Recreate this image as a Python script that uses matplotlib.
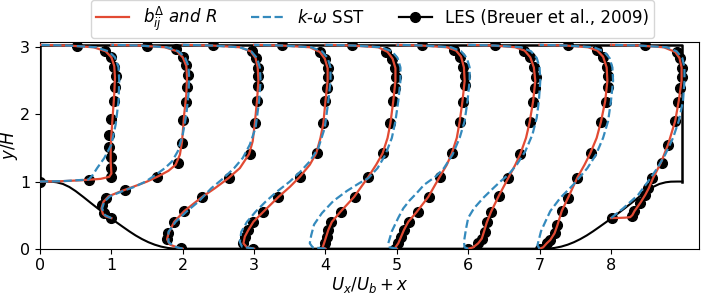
import numpy as np
import matplotlib
matplotlib.use("Agg")
import matplotlib.pyplot as plt
from matplotlib.lines import Line2D

# periodic hill geometry (left hill), mirrored on the right
hill_x = [0, 0.071, 0.161, 0.232, 0.321, 0.411, 0.5, 0.607, 0.714, 0.804, 0.893, 0.982,
          1.071, 1.161, 1.25, 1.339, 1.429, 1.518, 1.607, 1.696, 1.786, 1.857, 1.929]
hill_y = [1.0, 1.0, 0.998, 0.989, 0.964, 0.919, 0.857, 0.770, 0.679, 0.604, 0.532, 0.462,
          0.393, 0.325, 0.259, 0.1975, 0.143, 0.0967, 0.0594, 0.0311, 0.0118, 0.0029, 0.0]
L_x = 9.0
H_top = 3.036

stations = [0, 1, 2, 3, 4, 5, 6, 7, 8]

# LES (Breuer et al., 2009)
les_y = [
    [1.0, 1.025, 1.065, 1.2, 1.37, 1.52, 1.7, 1.93, 2.2, 2.41, 2.57, 2.7, 2.85, 2.95, 3.02],
    [0.453, 0.527, 0.651, 0.75, 0.874, 1.073, 1.27, 1.57, 1.917, 2.19, 2.41, 2.59, 2.74, 2.86, 2.97, 3.02],
    [0.01, 0.14, 0.23, 0.40, 0.56, 0.77, 1.05, 1.41, 1.87, 2.2, 2.42, 2.57, 2.69, 2.84, 2.94, 3.03],
    [0.0, 0.08, 0.18, 0.28, 0.40, 0.55, 0.77, 1.07, 1.42, 1.87, 2.2, 2.39, 2.55, 2.69, 2.83, 2.93, 3.03],
    [0.0, 0.08, 0.18, 0.28, 0.40, 0.55, 0.77, 1.07, 1.42, 1.87, 2.2, 2.39, 2.55, 2.69, 2.83, 2.93, 3.03],
    [0.0, 0.08, 0.18, 0.28, 0.40, 0.55, 0.77, 1.07, 1.42, 1.89, 2.19, 2.44, 2.57, 2.71, 2.86, 2.96, 3.03],
    [0.0, 0.08, 0.15, 0.25, 0.39, 0.55, 0.79, 1.05, 1.41, 1.88, 2.19, 2.4, 2.56, 2.7, 2.85, 2.95, 3.03],
    [0.0, 0.08, 0.13, 0.23, 0.35, 0.56, 0.76, 1.06, 1.42, 1.89, 2.19, 2.41, 2.57, 2.71, 2.86, 2.96, 3.03],
    [0.457, 0.48, 0.56, 0.68, 0.80, 0.90, 1.05, 1.28, 1.55, 1.9, 2.19, 2.39, 2.55, 2.69, 2.84, 2.93, 3.03],
]
les_u = [
    [0.0, 0.68, 0.99, 1.0, 0.99, 0.97, 0.97, 1.0, 1.03, 1.05, 1.06, 1.04, 0.99, 0.91, 0.52],
    [0.0, -0.11, -0.13, -0.07, 0.19, 0.635, 0.94, 0.99, 1.01, 1.04, 1.056, 1.07, 1.05, 1.0, 0.9, 0.5],
    [-0.03, -0.22, -0.2, -0.12, 0.02, 0.27, 0.65, 0.94, 1.01, 1.04, 1.06, 1.06, 1.05, 1.03, 0.97, 0.43],
    [-0.02, -0.15, -0.13, -0.08, -0.01, 0.13, 0.34, 0.64, 0.88, 0.97, 1.0, 1.02, 1.04, 1.03, 0.99, 0.92, 0.39],
    [-0.02, 0.0, 0.02, 0.04, 0.08, 0.22, 0.42, 0.6, 0.8, 0.91, 0.94, 0.97, 0.99, 0.98, 0.93, 0.85, 0.37],
    [-0.02, 0.02, 0.06, 0.1, 0.17, 0.3, 0.45, 0.6, 0.77, 0.886, 0.93, 0.956, 0.956, 0.93, 0.886, 0.8, 0.35],
    [0.0, 0.14, 0.19, 0.23, 0.26, 0.32, 0.43, 0.564, 0.73, 0.86, 0.905, 0.935, 0.945, 0.915, 0.87, 0.775, 0.377],
    [0.0, 0.1, 0.15, 0.22, 0.25, 0.31, 0.4, 0.53, 0.72, 0.86, 0.93, 0.96, 0.965, 0.94, 0.89, 0.8, 0.4],
    [0.01, 0.29, 0.32, 0.41, 0.48, 0.526, 0.573, 0.71, 0.8, 0.9, 0.946, 0.97, 0.994, 0.994, 0.97, 0.92, 0.48],
]

# b_ij^Delta and R model
red_y = [
    [1.0, 1.005, 1.02, 1.04, 1.07, 1.12, 1.3, 1.5, 1.7, 2.0, 2.3, 2.55, 2.72, 2.85, 2.94, 3.0, 3.025, 3.036],
    [0.455, 0.48, 0.52, 0.6, 0.7, 0.78, 0.85, 0.92, 1.0, 1.08, 1.16, 1.25, 1.4, 1.6, 2.0, 2.3, 2.55, 2.72, 2.85, 2.94, 3.0, 3.025, 3.036],
    [0, 0.02, 0.06, 0.14, 0.23, 0.4, 0.56, 0.77, 0.9, 1.05, 1.2, 1.41, 1.6, 1.87, 2.2, 2.5, 2.7, 2.84, 2.94, 3.0, 3.025, 3.036],
    [0, 0.02, 0.08, 0.18, 0.28, 0.4, 0.55, 0.77, 0.92, 1.07, 1.25, 1.42, 1.65, 1.87, 2.2, 2.5, 2.69, 2.83, 2.93, 3.0, 3.025, 3.036],
    [0, 0.02, 0.08, 0.18, 0.28, 0.4, 0.55, 0.77, 1.07, 1.25, 1.42, 1.65, 1.87, 2.2, 2.5, 2.69, 2.83, 2.93, 3.0, 3.025, 3.036],
    [0, 0.02, 0.08, 0.18, 0.28, 0.4, 0.55, 0.77, 1.07, 1.25, 1.42, 1.65, 1.89, 2.2, 2.5, 2.7, 2.86, 2.95, 3.0, 3.025, 3.036],
    [0, 0.02, 0.08, 0.15, 0.25, 0.39, 0.55, 0.79, 1.05, 1.25, 1.41, 1.65, 1.88, 2.2, 2.5, 2.7, 2.85, 2.95, 3.0, 3.025, 3.036],
    [0, 0.02, 0.08, 0.13, 0.23, 0.35, 0.56, 0.76, 1.06, 1.25, 1.42, 1.65, 1.89, 2.2, 2.5, 2.7, 2.86, 2.95, 3.0, 3.025, 3.036],
    [0.455, 0.458, 0.462, 0.47, 0.5, 0.56, 0.68, 0.8, 0.9, 1.05, 1.28, 1.55, 1.9, 2.2, 2.5, 2.7, 2.84, 2.93, 3.0, 3.025, 3.036],
]
red_u = [
    [0, 0.3, 0.6, 0.85, 0.97, 1.0, 0.99, 0.99, 1.0, 1.02, 1.04, 1.05, 1.04, 1.0, 0.92, 0.75, 0.4, 0],
    [0, -0.08, -0.12, -0.14, -0.11, -0.04, 0.12, 0.3, 0.5, 0.66, 0.8, 0.9, 0.96, 0.99, 1.02, 1.05, 1.06, 1.05, 1.0, 0.92, 0.75, 0.4, 0],
    [0, -0.08, -0.18, -0.22, -0.2, -0.12, 0.02, 0.27, 0.45, 0.64, 0.8, 0.93, 0.98, 1.01, 1.04, 1.06, 1.05, 1.02, 0.95, 0.8, 0.42, 0],
    [0, -0.1, -0.15, -0.13, -0.08, -0.01, 0.13, 0.34, 0.5, 0.64, 0.78, 0.87, 0.93, 0.97, 1.0, 1.03, 1.03, 0.99, 0.92, 0.78, 0.4, 0],
    [0, -0.04, -0.02, 0.01, 0.04, 0.09, 0.21, 0.4, 0.6, 0.71, 0.8, 0.87, 0.91, 0.95, 0.98, 0.98, 0.94, 0.87, 0.74, 0.38, 0],
    [0, -0.02, 0.02, 0.06, 0.1, 0.16, 0.28, 0.44, 0.6, 0.7, 0.77, 0.84, 0.88, 0.92, 0.95, 0.94, 0.9, 0.83, 0.7, 0.36, 0],
    [0, 0.07, 0.14, 0.19, 0.22, 0.26, 0.32, 0.43, 0.56, 0.66, 0.73, 0.81, 0.86, 0.91, 0.94, 0.92, 0.87, 0.79, 0.66, 0.36, 0],
    [0, 0.05, 0.1, 0.15, 0.21, 0.25, 0.31, 0.4, 0.53, 0.63, 0.71, 0.8, 0.86, 0.92, 0.95, 0.94, 0.89, 0.81, 0.68, 0.37, 0],
    [0, 0.1, 0.2, 0.27, 0.3, 0.33, 0.41, 0.48, 0.53, 0.59, 0.7, 0.8, 0.9, 0.95, 0.99, 0.99, 0.96, 0.9, 0.74, 0.4, 0],
]

# k-omega SST baseline
sst_y = [
    [1.0, 1.005, 1.03, 1.1, 1.2, 1.35, 1.55, 1.85, 2.2, 2.5, 2.7, 2.85, 2.94, 3.0, 3.025, 3.036],
    [0.455, 0.5, 0.6, 0.7, 0.78, 0.85, 0.92, 1.0, 1.1, 1.2, 1.3, 1.45, 1.7, 2.0, 2.3, 2.55, 2.72, 2.85, 2.94, 3.0, 3.025, 3.036],
    [0, 0.03, 0.1, 0.25, 0.4, 0.55, 0.7, 0.9, 1.05, 1.2, 1.35, 1.55, 1.8, 2.2, 2.5, 2.7, 2.84, 2.94, 3.0, 3.025, 3.036],
    [0, 0.03, 0.1, 0.25, 0.4, 0.55, 0.7, 0.85, 1.0, 1.15, 1.3, 1.5, 1.8, 2.2, 2.5, 2.7, 2.84, 2.94, 3.0, 3.025, 3.036],
    [0, 0.02, 0.08, 0.2, 0.36, 0.53, 0.71, 0.86, 0.98, 1.05, 1.2, 1.4, 1.65, 1.9, 2.2, 2.5, 2.7, 2.84, 2.94, 3.0, 3.025, 3.036],
    [0, 0.02, 0.08, 0.26, 0.46, 0.6, 0.72, 0.83, 0.95, 1.08, 1.2, 1.4, 1.65, 1.9, 2.2, 2.5, 2.7, 2.84, 2.94, 3.0, 3.025, 3.036],
    [0, 0.02, 0.1, 0.3, 0.46, 0.6, 0.756, 0.9, 1.0, 1.1, 1.25, 1.45, 1.7, 1.95, 2.2, 2.5, 2.7, 2.84, 2.94, 3.0, 3.025, 3.036],
    [0, 0.05, 0.26, 0.4, 0.56, 0.756, 0.95, 1.05, 1.2, 1.4, 1.65, 1.9, 2.2, 2.5, 2.7, 2.84, 2.94, 3.0, 3.025, 3.036],
    [0.455, 0.6, 0.8, 1.0, 1.2, 1.4, 1.65, 1.9, 2.2, 2.5, 2.7, 2.84, 2.94, 3.0, 3.025, 3.036],
]
sst_u = [
    [0, 0.3, 0.68, 0.74, 0.8, 0.9, 1.0, 1.06, 1.1, 1.11, 1.1, 1.05, 0.96, 0.78, 0.4, 0],
    [0, -0.09, -0.13, -0.1, -0.02, 0.14, 0.32, 0.48, 0.62, 0.75, 0.85, 0.93, 1.0, 1.05, 1.08, 1.09, 1.08, 1.03, 0.94, 0.77, 0.4, 0],
    [0, -0.12, -0.2, -0.2, -0.1, 0.05, 0.22, 0.4, 0.57, 0.72, 0.84, 0.94, 1.02, 1.07, 1.09, 1.08, 1.04, 0.96, 0.8, 0.42, 0],
    [0, -0.17, -0.2, -0.18, -0.1, 0.02, 0.16, 0.32, 0.5, 0.65, 0.78, 0.9, 0.99, 1.04, 1.07, 1.07, 1.03, 0.95, 0.8, 0.4, 0],
    [0, -0.18, -0.22, -0.2, -0.16, -0.05, 0.11, 0.3, 0.48, 0.6, 0.73, 0.84, 0.93, 0.98, 1.02, 1.05, 1.05, 1.01, 0.93, 0.78, 0.4, 0],
    [0, -0.1, -0.12, -0.07, 0.02, 0.09, 0.18, 0.28, 0.38, 0.55, 0.66, 0.78, 0.88, 0.95, 0.99, 1.02, 1.02, 0.98, 0.9, 0.76, 0.38, 0],
    [0, -0.05, -0.06, -0.03, 0.0, 0.08, 0.21, 0.35, 0.45, 0.56, 0.68, 0.8, 0.9, 0.96, 0.99, 1.01, 1.0, 0.96, 0.88, 0.74, 0.38, 0],
    [0, -0.03, 0.02, 0.08, 0.15, 0.29, 0.47, 0.55, 0.67, 0.79, 0.89, 0.96, 1.0, 1.03, 1.02, 0.98, 0.9, 0.76, 0.38, 0],
    [0, 0.17, 0.38, 0.52, 0.65, 0.76, 0.87, 0.95, 1.01, 1.03, 1.03, 1.0, 0.92, 0.78, 0.4, 0],
]

c_red = "#E24A33"
c_blue = "#348ABD"

fig = plt.figure(figsize=(7.06, 2.95), dpi=100)
ax = fig.add_axes([0.0567, 0.157, 0.934, 0.701])

# domain walls
bot_x = hill_x + [L_x - x for x in hill_x[::-1]]
bot_y = hill_y + hill_y[::-1]
ax.plot(bot_x, bot_y, color="k", lw=1.5, zorder=2)
ax.plot([0, 0, L_x, L_x], [hill_y[0], H_top, H_top, hill_y[0]], color="k", lw=1.8, zorder=2)

for i, xs in enumerate(stations):
    ax.plot(np.array(les_u[i]) + xs, les_y[i], "o", color="k", ms=7, zorder=3)
    ax.plot(np.array(red_u[i]) + xs, red_y[i], "-", color=c_red, lw=1.6, zorder=4)
    ax.plot(np.array(sst_u[i]) + xs, sst_y[i], "--", color=c_blue, lw=1.6, zorder=5)

ax.set_xlim(0, 9.24)
ax.set_ylim(0, 3.08)
ax.set_xticks(range(0, 9))
ax.set_yticks([0, 1, 2, 3])
ax.tick_params(labelsize=11.5)
ax.set_xlabel(r"$U_x/U_b + x$", fontsize=12, labelpad=1)
ax.set_ylabel(r"$y/H$", fontsize=12)
ax.yaxis.set_label_coords(-0.030, 0.5)

handles = [
    Line2D([], [], color=c_red, lw=1.6),
    Line2D([], [], color=c_blue, lw=1.6, ls="--"),
    Line2D([], [], color="k", lw=1.6, marker="o", ms=7),
]
labels = [r"$b^{\Delta}_{ij}\ and\ R$", r"$k$-$\omega$ SST", "LES (Breuer et al., 2009)"]
fig.legend(handles, labels, loc="upper center", bbox_to_anchor=(0.528, 1.0), ncol=3,
           fontsize=12, frameon=True, borderaxespad=0.0, borderpad=0.3)

fig.savefig("out.png", dpi=100)
